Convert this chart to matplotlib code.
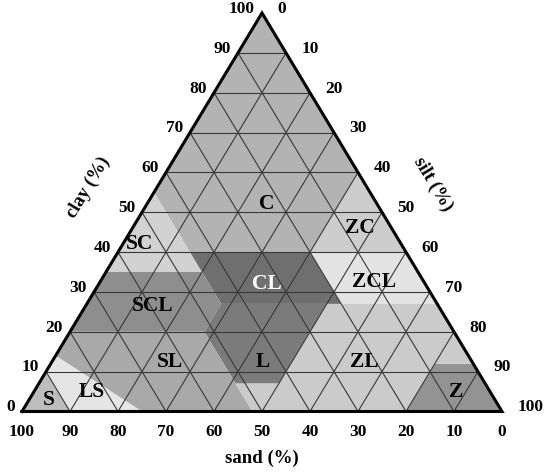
import numpy as np
import matplotlib
matplotlib.use("Agg")
import matplotlib.pyplot as plt
from matplotlib.patches import Polygon

# texture classes: vertices as (sand, silt, clay) %
classes = ["C", "SC", "ZC", "CL", "ZCL", "SCL", "L", "SL", "LS", "S", "Z", "ZL"]
vertices = {
    "C":   [(0, 0, 100), (45, 0, 55), (45, 15, 40), (20, 40, 40), (0, 40, 60)],
    "SC":  [(45, 0, 55), (65, 0, 35), (45, 20, 35)],
    "ZC":  [(0, 40, 60), (20, 40, 40), (0, 60, 40)],
    "CL":  [(45, 15, 40), (20, 40, 40), (20, 53, 27), (45, 28, 27)],
    "ZCL": [(20, 40, 40), (0, 60, 40), (0, 73, 27), (20, 53, 27)],
    "SCL": [(65, 0, 35), (45, 20, 35), (45, 28, 27), (52, 28, 20), (80, 0, 20)],
    "L":   [(45, 28, 27), (23, 50, 27), (43, 50, 7), (52, 41, 7), (52, 28, 20)],
    "SL":  [(80, 0, 20), (52, 28, 20), (52, 48, 0), (75, 25, 0), (86, 0, 14)],
    "LS":  [(86, 0, 14), (75, 25, 0), (90, 10, 0), (90, 0, 10)],
    "S":   [(100, 0, 0), (90, 10, 0), (90, 0, 10)],
    "Z":   [(20, 80, 0), (0, 100, 0), (0, 88, 12), (8, 80, 12)],
    "ZL":  [(20, 53, 27), (0, 73, 27), (0, 88, 12), (8, 80, 12), (20, 80, 0),
            (52, 48, 0), (52, 41, 7), (43, 50, 7), (23, 50, 27)],
}
fills = {
    "C": "#b3b3b3", "SC": "#d2d2d2", "ZC": "#cdcdcd", "CL": "#6f6f6f",
    "ZCL": "#e3e3e3", "SCL": "#8e8e8e", "L": "#7b7b7b", "SL": "#a9a9a9",
    "LS": "#e5e5e5", "S": "#bdbdbd", "Z": "#939393", "ZL": "#cbcbcb",
}
# label positions (silt, clay)
label_pos = {
    "C": (25, 52), "SC": (3.5, 42), "ZC": (47.5, 46), "CL": (35, 32),
    "ZCL": (57, 32.5), "SCL": (14, 26.5), "SL": (24.5, 12.5), "L": (44, 12.5),
    "ZL": (65, 12.5), "LS": (12, 5), "S": (4, 3), "Z": (88, 5),
}
ticks = np.arange(0, 101, 10)


def tern(silt, clay):
    return silt + clay / 2.0, clay


fig = plt.figure(figsize=(5.5, 4.75), dpi=100)
ax = fig.add_axes([0, 0, 1, 1])
ax.set_xlim(-22 / 4.8, 528 / 4.8)
ax.set_ylim((411.5 - 475) / 3.985, 411.5 / 3.985)
ax.axis("off")

for name in classes:
    pts = [tern(z, c) for s, z, c in vertices[name]]
    ax.add_patch(Polygon(pts, closed=True, facecolor=fills[name], edgecolor="none"))

# grid
for v in ticks[1:-1]:
    x0, y0 = tern(0, v); x1, y1 = tern(100 - v, v)
    ax.plot([x0, x1], [y0, y1], color="#383838", lw=0.8)
    x0, y0 = tern(100 - v, 0); x1, y1 = tern(0, 100 - v)
    ax.plot([x0, x1], [y0, y1], color="#383838", lw=0.8)
    x0, y0 = tern(v, 0); x1, y1 = tern(v, 100 - v)
    ax.plot([x0, x1], [y0, y1], color="#383838", lw=0.8)

border = [tern(0, 0), tern(100, 0), tern(0, 100), tern(0, 0)]
ax.plot([p[0] for p in border], [p[1] for p in border], color="black", lw=2.2,
        solid_joinstyle="miter")

font = dict(family="Liberation Serif", weight="bold")
for v in ticks:
    # sand along the base
    ax.annotate(str(v), tern(100 - v, 0), xytext=(0, -15), textcoords="offset points",
                ha="center", va="center", fontsize=12.5, **font)
    # clay on the left
    ax.annotate(str(v), tern(0, v), xytext=(-5, 3), textcoords="offset points",
                ha="right", va="center", fontsize=12.5, **font)
    # silt on the right
    ax.annotate(str(v), tern(v, 100 - v), xytext=(11, 3), textcoords="offset points",
                ha="left", va="center", fontsize=12.5, **font)

ax.annotate("sand (%)", tern(50, 0), xytext=(0, -34), textcoords="offset points",
            ha="center", va="center", fontsize=13.5, **font)
ax.annotate("clay (%)", tern(0, 50), xytext=(-39, 18), textcoords="offset points",
            ha="center", va="center", fontsize=13.5, rotation=58.8, **font)
ax.annotate("silt (%)", tern(50, 50), xytext=(37, 20), textcoords="offset points",
            ha="center", va="center", fontsize=13.5, rotation=-58.8, **font)

for name in classes:
    z, c = label_pos[name]
    ax.text(*tern(z, c), name, ha="center", va="center", fontsize=15.5,
            color="white" if name == "CL" else "black", **font)

fig.savefig("out.png", dpi=100)
